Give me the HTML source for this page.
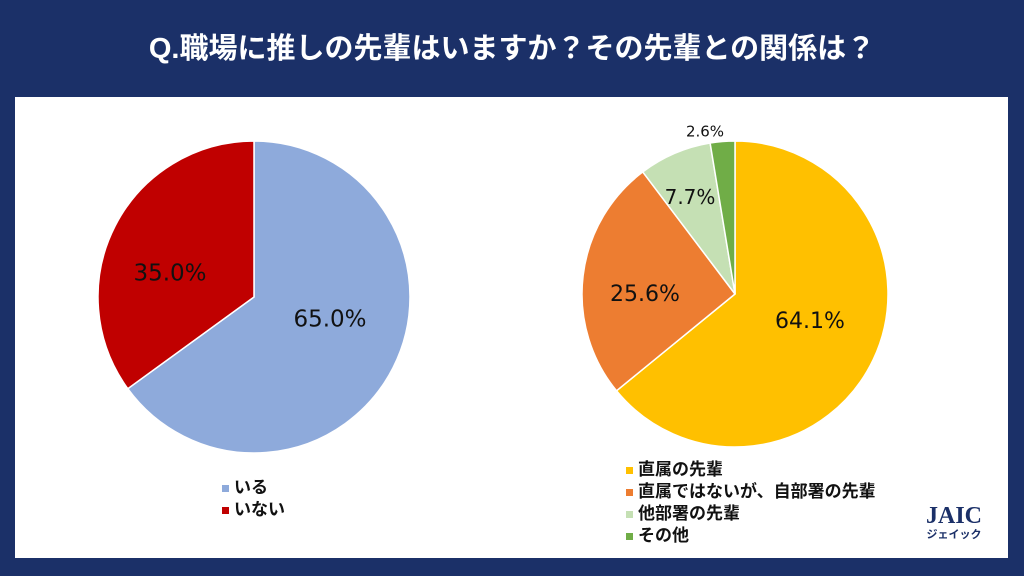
<!DOCTYPE html>
<html><head><meta charset="utf-8"><style>
body{margin:0;width:1024px;height:576px;background:#1b3068;position:relative;overflow:hidden;font-family:"Liberation Sans","Noto Sans CJK JP",sans-serif}
#title{position:absolute;left:0;top:25px;width:1024px;text-align:center;color:#fff;font-size:29px;font-weight:bold}
#panel{position:absolute;left:15px;top:97px;width:993px;height:461px;background:#fff}
svg{position:absolute;left:0;top:0}
.leg{position:absolute;font-size:17px;color:#111;line-height:22px;font-weight:bold}
.sw{display:inline-block;width:7px;height:7px;margin-right:5px;vertical-align:middle}
</style></head><body>
<div id="title">Q.職場に推しの先輩はいますか？その先輩との関係は？</div>
<div id="panel"></div>
<svg id="chart" width="1024" height="576"></svg>
<div class="leg" style="left:222px;top:477px">
<div><span class="sw" style="background:#8eaadb"></span>いる</div>
<div><span class="sw" style="background:#c00000"></span>いない</div>
</div>
<div class="leg" style="left:626px;top:459px">
<div><span class="sw" style="background:#ffc000"></span>直属の先輩</div>
<div><span class="sw" style="background:#ed7d31"></span>直属ではないが、自部署の先輩</div>
<div><span class="sw" style="background:#c5e0b4"></span>他部署の先輩</div>
<div><span class="sw" style="background:#70ad47"></span>その他</div>
</div>
<div style="position:absolute;left:926px;top:505px;color:#1b3068;font-family:'Liberation Serif',serif;font-weight:bold;font-size:24px;line-height:22px;text-align:center">JAIC<div style="font-size:11px;line-height:14px;font-family:'Noto Sans CJK JP',sans-serif">ジェイック</div></div>
<script>
const leftLabels=["いる","いない"];
const leftValues=[65.0,35.0];
const leftColors=["#8eaadb","#c00000"];
const rightLabels=["直属の先輩","直属ではないが、自部署の先輩","他部署の先輩","その他"];
const rightValues=[64.1,25.6,7.7,2.6];
const rightColors=["#ffc000","#ed7d31","#c5e0b4","#70ad47"];
const NS="http://www.w3.org/2000/svg";
const svg=document.getElementById('chart');
function pie(cx,cy,r,vals,cols,name,lx,ly,fs){
  const tot=vals.reduce((a,b)=>a+b,0);let a0=0;
  vals.forEach((v,i)=>{
    const a1=a0+v/tot*2*Math.PI;
    const x0=cx+r*Math.sin(a0),y0=cy-r*Math.cos(a0),x1=cx+r*Math.sin(a1),y1=cy-r*Math.cos(a1);
    const p=document.createElementNS(NS,'path');
    p.setAttribute('d',`M${cx},${cy}L${x0},${y0}A${r},${r} 0 ${a1-a0>Math.PI?1:0} 1 ${x1},${y1}Z`);
    p.setAttribute('fill',cols[i]);p.setAttribute('stroke','#fff');p.setAttribute('stroke-width','1.5');
    
    
    svg.appendChild(p);
    const t=document.createElementNS(NS,'text');
    t.setAttribute('x',cx+lx[i]);t.setAttribute('y',cy+ly[i]+fs[i]*0.36);
    t.setAttribute('text-anchor','middle');t.setAttribute('font-size',fs[i]);t.setAttribute('fill','#111');
    t.setAttribute('font-family','DejaVu Sans, sans-serif');
    t.textContent=v.toFixed(1)+'%';
    
    
    svg.appendChild(t);
    a0=a1;
  });
}
pie(254,297,156,leftValues,leftColors,'left',[76,-84],[21,-25],[23,23]);
pie(735,294,153,rightValues,rightColors,'right',[75,-90,-45,-30],[26,-1,-97,-163],[22,22,20,15]);
</script>
</body></html>
